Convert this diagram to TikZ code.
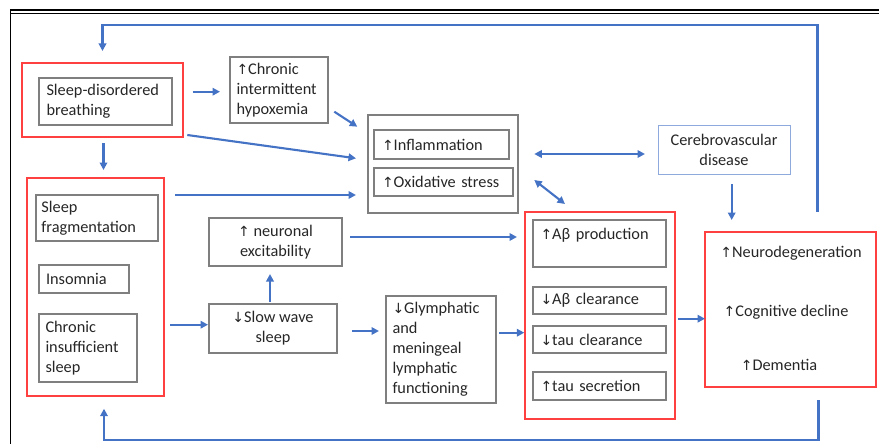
\documentclass[tikz,border=0pt]{standalone}
\usepackage{fontspec}
\setmainfont{Carlito}
\newfontfamily\arrowfont{DejaVu Sans}
\newcommand\UP{{\arrowfont\fontsize{14}{20}\selectfont ↑}}
\newcommand\DN{{\arrowfont\fontsize{14}{20}\selectfont ↓}}
\usetikzlibrary{calc,arrows.meta}
\definecolor{boxgray}{HTML}{7F7F7F}
\definecolor{boxred}{HTML}{FF4040}
\definecolor{arrblue}{HTML}{4472C4}
\definecolor{lblue}{HTML}{8EA9DB}
\begin{document}
\begin{tikzpicture}[x=1pt,y=-1pt,
  every node/.style={font=\fontsize{16.3}{20}\selectfont, text=black!85, inner sep=0pt, outer sep=0pt},
  gbox/.style={draw=boxgray, line width=1.2pt, anchor=north west},
  rbox/.style={draw=boxred, line width=1.4pt, anchor=north west},
  arr/.style={draw=arrblue, line width=2.1pt, -{Triangle[length=7.5pt,width=7.5pt]}},
  darr/.style={draw=arrblue, line width=2.1pt, {Triangle[length=7.5pt,width=7.5pt]}-{Triangle[length=7.5pt,width=7.5pt]}},
]
\useasboundingbox (0,0) rectangle (879,444);
% outer frame
\draw[line width=1.5pt] (10,10) -- (879,10);
\draw[line width=0.9pt] (10,13.5) -- (879,13.5);
\draw[line width=1.8pt] (10.5,9.3) -- (10.5,444);

% groups
\node[rbox, minimum width=161pt, minimum height=74pt] (sdbG) at (22,63) {};
\node[rbox, minimum width=137pt, minimum height=218pt] (slpG) at (27,178) {};
\node[gbox, minimum width=150pt, minimum height=98pt] (infG) at (368,115) {};
\node[rbox, minimum width=150pt, minimum height=207pt] (abG) at (525,212) {};
\node[rbox, minimum width=171pt, minimum height=155pt] (out) at (705,232) {};
\draw[boxred, line width=2.6pt] (out.north east) -- (out.south east);

% boxes
\node[gbox, inner xsep=7.5pt, text width=118pt, minimum height=47pt, align=left] (sdb) at (39,78) {Sleep-disordered\\breathing};
\node[gbox, inner xsep=6.5pt, text width=85pt, minimum height=66pt, align=left] (hyp) at (230,57) {\UP Chronic\\intermittent\\hypoxemia};
\node[gbox, inner xsep=5.5pt, text width=111pt, minimum height=46pt, align=left] (frag) at (36,195) {Sleep\\fragmentation};
\node[gbox, inner xsep=7pt, text width=76pt, minimum height=28pt, align=left] (ins) at (39,265) {Insomnia};
\node[gbox, inner xsep=6.5pt, text width=85pt, minimum height=68pt, align=left] (cis) at (39,314) {Chronic\\insufficient\\sleep};
\node[gbox, inner xsep=8pt, text width=119pt, minimum height=29pt, align=left] (inf) at (374,130) {\UP Inflammation};
\node[gbox, inner xsep=8pt, text width=123pt, minimum height=28pt, align=left] (oxi) at (374,168) {\UP Oxidative stress};
\node[draw=lblue, line width=1pt, anchor=north west, minimum width=132pt, minimum height=49pt, align=center] (cer) at (658,125) {Cerebrovascular\\disease};
\node[gbox, minimum width=133pt, minimum height=48pt, align=center] (neu) at (209,218) {\UP\ neuronal\\excitability};
\node[gbox, minimum width=128pt, minimum height=49pt, align=center] (sws) at (209,304) {\DN Slow wave\\sleep};
\node[gbox, inner xsep=6.5pt, text width=97pt, minimum height=107pt, align=left] (gly) at (386,296) {\DN Glymphatic\\and\\meningeal\\lymphatic\\functioning};
\node[gbox, inner xsep=7.5pt, text width=118pt, minimum height=47pt, align=left] (abp) at (533,220) {\UP Aβ production\\\mbox{}};
\node[gbox, inner xsep=7.5pt, text width=118pt, minimum height=27pt, align=left] (abc) at (533,287) {\DN Aβ clearance};
\node[gbox, inner xsep=7.5pt, text width=118pt, minimum height=27pt, align=left] (tauc) at (533,326) {\DN tau clearance};
\node[gbox, inner xsep=7.5pt, text width=118pt, minimum height=28pt, align=left] (taus) at (533,372) {\UP tau secretion};

% outcome texts
\node (neuro) at (791,253) {\UP Neurodegeneration};
\node (cog) at (786,312) {\UP Cognitive decline};
\node (dem) at (779,365) {\UP Dementia};

% connectors
\draw[arr] ($(out.north)+(27,-20)$) |- ($(sdbG.north)+(0,-38)$) -- ($(sdbG.north)+(0,-12)$);
\draw[arr] ($(out.south)+(28,13)$) |- ($(slpG.south)+(8.5,44)$) -- ($(slpG.south)+(8.5,12.7)$);
\draw[arr] ($(sdbG.east)+(9.7,-8.3)$) -- ($(hyp.west)+(-10,1.7)$);
\draw[arr] ($(hyp.south east)+(6.3,-11.3)$) -- ($(infG.north west)+(-10.7,11.7)$);
\draw[arr] ($(sdbG.south east)+(4.3,-2)$) -- ($(infG.west)+(-12,-5.7)$);
\draw[arr] ($(sdbG.south)+(1,6)$) -- ++(0,27);
\draw[arr] ($(slpG.north east)+(11,17)$) -- ($(infG.west)+(-12,31)$);
\draw[arr] ($(slpG.east)+(6,37.7)$) -- ($(sws.west)+(-1,-3.8)$);
\draw[arr] ($(sws.north)+(-3,-2)$) -- ++(0,-28);
\draw[arr] ($(neu.east)+(8,-5)$) -- ($(abp.west)+(-16,-6.5)$);
\draw[arr] ($(sws.east)+(15.3,2.5)$) -- ($(gly.west)+(-7,-18.5)$);
\draw[arr] ($(gly.east)+(3.3,-16.8)$) -- ($(abG.west)+(-0.7,17.2)$);
\draw[arr] ($(abG.east)+(3.3,3.2)$) -- ($(out.west)+(0,9.2)$);
\draw[darr] ($(infG.east)+(16.3,-10)$) -- ($(cer.west)+(-13,4.5)$);
\draw[darr] ($(infG.east)+(16.3,16)$) -- ($(abG.north)+(-35,-8)$);
\draw[arr] ($(cer.south)+(7.7,10)$) -- ++(0,36);
\end{tikzpicture}
\end{document}
